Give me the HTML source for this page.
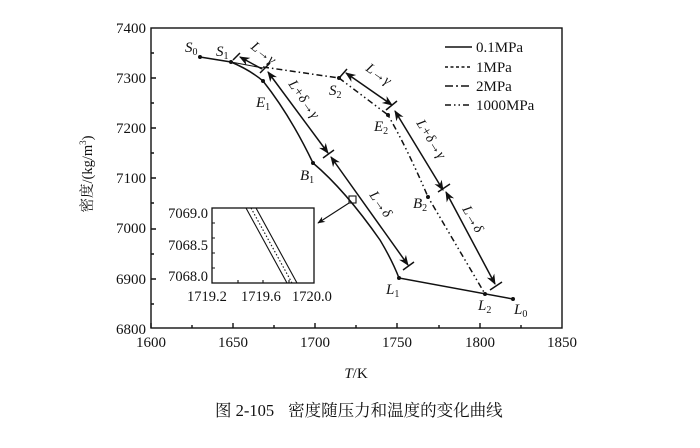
<!DOCTYPE html>
<html><head><meta charset="utf-8"><style>
html,body{margin:0;padding:0;background:#fff;}
svg{display:block;font-family:"Liberation Serif","Noto Serif CJK SC",serif;}
</style></head><body>
<svg width="700" height="448" viewBox="0 0 700 448" xmlns="http://www.w3.org/2000/svg">
<defs>
<marker id="ah" viewBox="0 0 10 10" refX="9" refY="5" markerWidth="7" markerHeight="7" orient="auto-start-reverse"><path d="M0,1 L10,5 L0,9 L3,5 Z" fill="#111"/></marker>
</defs>
<rect width="700" height="448" fill="#fff"/>
<g stroke="#111" fill="none" stroke-width="1.4">
<rect x="151" y="28" width="411" height="300"/>
<path d="M151,328v-5M192,328v-3M233,328v-5M274,328v-3M315,328v-5M356,328v-3M397,328v-5M439,328v-3M480,328v-5M521,328v-3"/>
<path d="M151,78h5M151,128h5M151,178h5M151,229h5M151,279h5M151,53h3M151,103h3M151,153h3M151,203h3M151,254h3M151,304h3"/>
</g>
<g font-size="15" fill="#111" text-anchor="end">
<text x="146" y="33">7400</text><text x="146" y="83">7300</text><text x="146" y="133">7200</text>
<text x="146" y="183">7100</text><text x="146" y="233">7000</text><text x="146" y="284">6900</text><text x="146" y="334">6800</text>
</g>
<g font-size="15" fill="#111" text-anchor="middle">
<text x="151" y="347">1600</text><text x="233" y="347">1650</text><text x="315" y="347">1700</text>
<text x="397" y="347">1750</text><text x="480" y="347">1800</text><text x="562" y="347">1850</text>
<text x="356" y="378"><tspan font-style="italic">T</tspan>/K</text>
</g>
<text transform="translate(92,174) rotate(-90)" font-size="14.5" text-anchor="middle" fill="#111">密度/(kg/m<tspan font-size="9" dy="-6">3</tspan><tspan dy="6">)</tspan></text>

<g stroke="#111" fill="none" stroke-width="1.5">
<path d="M200,57 L231,62 Q250,70 263,81 Q290,115 313,163 Q345,190 380,240 Q392,260 399,278 L513,299"/>
<path d="M263,67 L339,78" stroke-dasharray="6,3,1.5,3"/>
<path d="M339,78 L388,115 Q408,150 428,197 L485,294" stroke-dasharray="6,3,1.5,3,1.5,3"/>
<path d="M231,62 L263,68" stroke-width="1"/>
<path d="M240,57 L262,69" marker-start="url(#ah)"/>
<path d="M268,72 L328,153" marker-start="url(#ah)" marker-end="url(#ah)"/>
<path d="M331,157 L408,265" marker-start="url(#ah)" marker-end="url(#ah)"/>
<path d="M346,73 L392,105" marker-start="url(#ah)" marker-end="url(#ah)"/>
<path d="M395,111 L443,190" marker-start="url(#ah)" marker-end="url(#ah)"/>
<path d="M446,192 L495,284" marker-start="url(#ah)" marker-end="url(#ah)"/>
<path d="M233,60 L240,53 M260,73 L270,63 M323,158 L334,150 M403,270 L414,262 M340,77 L347,69 M386,110 L397,101 M438,192 L450,184 M490,290 L502,282"/>
<rect x="349" y="196" width="7" height="7" stroke-width="1.1"/>
<path d="M349,203 L318,223" marker-end="url(#ah)" stroke-width="1.1"/>
</g>
<g fill="#111">
<circle cx="200" cy="57" r="2"/><circle cx="231" cy="62" r="2"/><circle cx="263" cy="81" r="2"/>
<circle cx="313" cy="163" r="2"/><circle cx="399" cy="278" r="2"/><circle cx="513" cy="299" r="2"/>
<circle cx="485" cy="294" r="2"/><circle cx="339" cy="78" r="2"/><circle cx="388" cy="115" r="2"/><circle cx="428" cy="197" r="2"/>
</g>
<g font-size="15" font-style="italic" fill="#111">
<text x="185" y="52">S<tspan font-size="10" dy="3" font-style="normal">0</tspan></text>
<text x="216" y="56">S<tspan font-size="10" dy="3" font-style="normal">1</tspan></text>
<text x="256" y="107">E<tspan font-size="10" dy="3" font-style="normal">1</tspan></text>
<text x="300" y="180">B<tspan font-size="10" dy="3" font-style="normal">1</tspan></text>
<text x="386" y="294">L<tspan font-size="10" dy="3" font-style="normal">1</tspan></text>
<text x="514" y="314">L<tspan font-size="10" dy="3" font-style="normal">0</tspan></text>
<text x="478" y="310">L<tspan font-size="10" dy="3" font-style="normal">2</tspan></text>
<text x="329" y="95">S<tspan font-size="10" dy="3" font-style="normal">2</tspan></text>
<text x="374" y="131">E<tspan font-size="10" dy="3" font-style="normal">2</tspan></text>
<text x="413" y="208">B<tspan font-size="10" dy="3" font-style="normal">2</tspan></text>
</g>
<g font-size="14" font-style="italic" fill="#111">
<text transform="translate(250,48) rotate(38)">L→γ</text>
<text transform="translate(288,84) rotate(55)">L+δ→γ</text>
<text transform="translate(369,195) rotate(55)">L→δ</text>
<text transform="translate(365,70) rotate(35)">L→γ</text>
<text transform="translate(416,123) rotate(58)">L+δ→γ</text>
<text transform="translate(462,209) rotate(60)">L→δ</text>
</g>
<g stroke="#111" stroke-width="1.5">
<line x1="445" y1="47" x2="472" y2="47"/>
<line x1="445" y1="67" x2="472" y2="67" stroke-dasharray="3,2.5"/>
<line x1="445" y1="86" x2="472" y2="86" stroke-dasharray="8,3,2,3"/>
<line x1="445" y1="105" x2="472" y2="105" stroke-dasharray="6,3,1.5,3,1.5,3"/>
</g>
<g font-size="15" fill="#111">
<text x="476" y="52">0.1MPa</text><text x="476" y="72">1MPa</text>
<text x="476" y="91">2MPa</text><text x="476" y="110">1000MPa</text>
</g>
<rect x="212" y="208" width="102" height="75" fill="#fff" stroke="#111" stroke-width="1.3"/>
<g stroke="#111" stroke-width="1.1">
<path d="M212,223h3M212,238h3M212,253h3M212,268h3M238,283v-3M263,283v-3M289,283v-3"/>
<line x1="246" y1="208" x2="287" y2="283"/>
<line x1="251" y1="208" x2="292" y2="283" stroke-dasharray="1.5,2"/>
<line x1="256" y1="208" x2="297" y2="283"/>
</g>
<g font-size="14.5" fill="#111">
<text x="208" y="218" text-anchor="end">7069.0</text>
<text x="208" y="250" text-anchor="end">7068.5</text>
<text x="208" y="281" text-anchor="end">7068.0</text>
<text x="187" y="301">1719.2</text><text x="241" y="301">1719.6</text><text x="292" y="301">1720.0</text>
</g>
<text x="215" y="416" font-size="16.5" fill="#111">图 2-105<tspan dx="14">密度随压力和温度的变化曲线</tspan></text>
</svg>
</body></html>
